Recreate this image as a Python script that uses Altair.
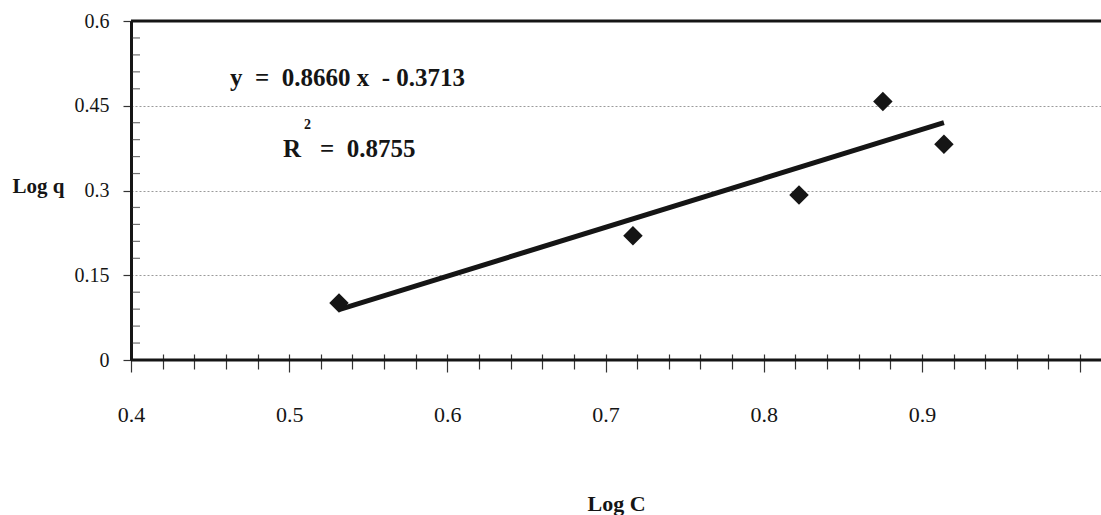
import altair as alt
import pandas as pd

# Freundlich isotherm: log q against log C
log_c = [0.5315, 0.7173, 0.8223, 0.8753, 0.9139]
log_q = [0.101, 0.220, 0.292, 0.4575, 0.382]

# fitted line as reported
slope = 0.8660
intercept = -0.3713
r_squared = 0.8755

x_tick_values = [round(0.4 + 0.02 * i, 2) for i in range(31)]
y_major_ticks = [0, 0.15, 0.3, 0.45, 0.6]
y_minor_ticks = [0.03, 0.06, 0.09, 0.12, 0.18, 0.21, 0.24, 0.27,
                 0.33, 0.36, 0.39, 0.42, 0.48, 0.51, 0.54, 0.57]

X_MIN, X_MAX = 0.4, 1.0132
W, H = 970, 339
SERIF = "Liberation Serif"
INK = "#151515"

points = pd.DataFrame({"logC": log_c, "logq": log_q})
fit_x = [min(log_c), max(log_c)]
fit = pd.DataFrame({"logC": fit_x, "logq": [slope * v + intercept for v in fit_x]})

x_scale = alt.Scale(domain=[X_MIN, X_MAX], nice=False, zero=False)
y_scale = alt.Scale(domain=[0, 0.6], nice=False)

major_test = "abs(datum.value * 10 - round(datum.value * 10)) < 0.001"

x_axis = alt.Axis(
    values=x_tick_values,
    tickCount=100,
    domain=False,
    grid=False,
    offset=-6,
    tickSize={"condition": {"test": major_test, "value": 18}, "value": 15},
    tickColor="#333",
    tickWidth=1.2,
    labelExpr=f"({major_test} && datum.value < 0.95) ? format(datum.value, '.1f') : ''",
    labelFont=SERIF,
    labelFontSize=22,
    labelColor=INK,
    labelPadding=49,
    labelBaseline="alphabetic",
    labelFlush=False,
    labelOverlap=False,
    title="Log C",
    titleFont=SERIF,
    titleFontSize=22,
    titleFontWeight="bold",
    titleColor=INK,
    titleBaseline="alphabetic",
    titleY=156,
)

y_axis = alt.Axis(
    values=y_major_ticks,
    tickCount=20,
    format="~g",
    domain=True,
    domainColor=INK,
    domainWidth=3,
    grid=True,
    gridColor="#9a9a9a",
    gridDash=[2, 2],
    gridWidth=1,
    tickSize=8,
    tickColor="#333",
    tickWidth=1.2,
    labelFont=SERIF,
    labelFontSize=20,
    labelColor=INK,
    labelPadding=14,
    title="Log q",
    titleAngle=0,
    titleAlign="left",
    titleBaseline="alphabetic",
    titleX=-119,
    titleY=171,
    titleFont=SERIF,
    titleFontSize=21,
    titleFontWeight="bold",
    titleColor=INK,
)

diamonds = alt.Chart(points).mark_point(
    shape="diamond", filled=True, size=380, color=INK, opacity=1
).encode(
    x=alt.X("logC:Q", scale=x_scale, axis=x_axis),
    y=alt.Y("logq:Q", scale=y_scale, axis=y_axis),
)

trend = alt.Chart(fit).mark_line(color=INK, strokeWidth=5).encode(
    x=alt.X("logC:Q", scale=x_scale),
    y=alt.Y("logq:Q", scale=y_scale),
)

frame = alt.Chart(pd.DataFrame({"v": [0, 0.6]})).mark_rule(
    color=INK, strokeWidth=3
).encode(y=alt.Y("v:Q", scale=y_scale))

minor = alt.Chart(pd.DataFrame({"v": y_minor_ticks})).mark_tick(
    orient="horizontal", size=8, thickness=1.2, color="#333", xOffset=5
).encode(x=alt.datum(X_MIN), y=alt.Y("v:Q", scale=y_scale))

nb = "\u00a0"
labels = pd.DataFrame({
    "text": [
        f"y{nb}{nb}={nb}{nb}{slope:.4f}{nb}x{nb}{nb}-{nb}{abs(intercept):.4f}",
        "R",
        f"={nb}{nb}{r_squared:.4f}",
    ],
    "x": [0.4626, 0.4961, 0.5195],
    "y": [0.4850, 0.3593, 0.3593],
})
eq_text = alt.Chart(labels).mark_text(
    font=SERIF, fontWeight="bold", fontSize=25, align="left",
    baseline="alphabetic", color=INK
).encode(
    x=alt.X("x:Q", scale=x_scale),
    y=alt.Y("y:Q", scale=y_scale),
    text="text:N",
)

sup = alt.Chart(pd.DataFrame({"text": ["2"], "x": [0.5094], "y": [0.4088]})).mark_text(
    font=SERIF, fontWeight="bold", fontSize=14, align="left",
    baseline="alphabetic", color=INK
).encode(
    x=alt.X("x:Q", scale=x_scale),
    y=alt.Y("y:Q", scale=y_scale),
    text="text:N",
)

chart = alt.layer(frame, minor, trend, diamonds, eq_text, sup).properties(
    width=W,
    height=H,
    autosize=alt.AutoSizeParams(type="none"),
    padding={"left": 131, "top": 21, "right": 0, "bottom": 155},
    background="white",
).configure_view(stroke=None)

chart.save("out.html", embed_options={"renderer": "svg", "actions": False})
